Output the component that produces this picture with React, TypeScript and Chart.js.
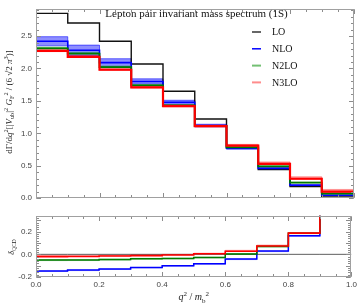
import React, { useEffect, useRef } from 'react';
import { Chart, registerables } from 'chart.js';
Chart.register(...registerables);

// ---------- data ----------
const binEdges = [0, 0.1, 0.2, 0.3, 0.4, 0.5, 0.6, 0.7, 0.8, 0.9, 1.0];

const LO = [2.85, 2.70, 2.42, 2.07, 1.65, 1.22, 0.78, 0.44, 0.18, 0.02];
const NLO = [2.42, 2.28, 2.09, 1.80, 1.48, 1.12, 0.77, 0.46, 0.20, 0.045];
const NLO_hi = [2.49, 2.36, 2.15, 1.84, 1.51, 1.14, 0.785, 0.47, 0.21, 0.05];
const NLO_lo = [2.35, 2.20, 2.03, 1.76, 1.45, 1.10, 0.755, 0.45, 0.19, 0.04];
const N2LO = [2.31, 2.23, 2.02, 1.74, 1.43, 1.11, 0.785, 0.49, 0.24, 0.07];
const N2LO_hi = [2.33, 2.25, 2.04, 1.755, 1.44, 1.12, 0.795, 0.50, 0.25, 0.08];
const N2LO_lo = [2.305, 2.225, 2.015, 1.735, 1.425, 1.105, 0.78, 0.485, 0.235, 0.065];
const N3LO = [2.27, 2.18, 1.98, 1.71, 1.42, 1.11, 0.81, 0.53, 0.30, 0.10];
const N3LO_hi = [2.29, 2.20, 2.00, 1.73, 1.44, 1.13, 0.83, 0.56, 0.33, 0.135];
const N3LO_lo = [2.26, 2.17, 1.97, 1.70, 1.41, 1.10, 0.80, 0.52, 0.29, 0.09];

const dLO = [0, 0, 0, 0, 0, 0, 0, 0, 0, 0];
const dNLO = [-0.146, -0.139, -0.129, -0.116, -0.100, -0.083, -0.041, 0.030, 0.165, 1.5];
const dNLO_lo = [-0.151, -0.144, -0.134, -0.121, -0.105, -0.088, -0.047, 0.023, 0.158, 1.4];
const dN2LO = [-0.050, -0.049, -0.046, -0.038, -0.036, -0.028, 0.004, 0.069, 0.185, 2.2];
const dN2LO_hi = [-0.046, -0.045, -0.042, -0.034, -0.032, -0.024, 0.008, 0.073, 0.188, 2.3];
const dN2LO_lo = [-0.056, -0.055, -0.052, -0.044, -0.041, -0.033, 0.000, 0.064, 0.181, 2.1];
const dN3LO = [-0.020, -0.019, -0.015, -0.011, -0.006, 0.005, 0.027, 0.074, 0.187, 3.0];
const dN3LO_hi = [-0.008, -0.008, -0.006, -0.003, 0.000, 0.011, 0.036, 0.083, 0.191, 3.1];

const seriesNames = ['LO', 'NLO', 'N2LO', 'N3LO'];
const titleText = 'Lepton pair invariant mass spectrum (1S)';
const xTicksMajor = [0, 0.2, 0.4, 0.6, 0.8, 1.0];
const yTicksTop = [0, 0.5, 1.0, 1.5, 2.0, 2.5];
const yTicksBottom = [-0.2, -0.1, 0.0, 0.1, 0.2, 0.3];

// ---------- helpers ----------
const steps = (vals: number[]) => {
  const pts = vals.map((v, i) => ({ x: binEdges[i], y: v }));
  pts.push({ x: binEdges[binEdges.length - 1], y: vals[vals.length - 1] });
  return pts;
};

const lineDs = (vals: number[], color: string, width: number, order: number) => ({
  type: 'line' as const,
  data: steps(vals),
  borderColor: color,
  borderWidth: width,
  stepped: 'before' as const,
  pointRadius: 0,
  fill: false,
  order,
  clip: 0,
});

const bandDs = (hi: number[], lo: number[], fillColor: string, edge: string, order: number) => [
  {
    type: 'line' as const,
    data: steps(hi),
    borderColor: edge,
    borderWidth: 0.8,
    backgroundColor: fillColor,
    stepped: 'before' as const,
    pointRadius: 0,
    fill: '+1',
    order,
    clip: 0,
  },
  {
    type: 'line' as const,
    data: steps(lo),
    borderColor: edge,
    borderWidth: 0.8,
    stepped: 'before' as const,
    pointRadius: 0,
    fill: false,
    order,
    clip: 0,
  },
];

type Seg = { t: string; it?: boolean; sup?: boolean; sub?: boolean };
const SERIF = '"Liberation Serif", "DejaVu Serif", serif';
const SANS = '"Liberation Sans", Arial, sans-serif';

function drawRich(ctx: CanvasRenderingContext2D, segs: Seg[], x: number, y: number, size: number, align: 'center' | 'left', color: string) {
  const fontFor = (s: Seg) => `${s.it ? 'italic ' : ''}${s.sup || s.sub ? size * 0.7 : size}px ${SERIF}`;
  let w = 0;
  segs.forEach((s) => {
    ctx.font = fontFor(s);
    w += ctx.measureText(s.t).width;
  });
  let cx = align === 'center' ? x - w / 2 : x;
  ctx.fillStyle = color;
  ctx.textBaseline = 'alphabetic';
  ctx.textAlign = 'left';
  segs.forEach((s) => {
    ctx.font = fontFor(s);
    const dy = s.sup ? -size * 0.4 : s.sub ? size * 0.25 : 0;
    ctx.fillText(s.t, cx, y + dy);
    cx += ctx.measureText(s.t).width;
  });
}

function range(min: number, max: number, step: number) {
  const n = Math.round((max - min) / step);
  const out: number[] = [];
  for (let k = 0; k <= n; k++) out.push(+(min + k * step).toFixed(6));
  return out;
}

const framePlugin = (yMinor: number[], yMajor: number[]) => ({
  id: 'frameTicks',
  afterDatasetsDraw(chart: any) {
    const { ctx, chartArea: a, scales } = chart;
    const xs = scales.x;
    const ys = scales.y;
    const L = Math.round(a.left) + 0.5;
    const R = Math.round(a.right) - 0.5;
    const T = Math.round(a.top) + 0.5;
    const B = Math.round(a.bottom) - 0.5;
    ctx.save();
    ctx.lineWidth = 1;
    ctx.strokeStyle = '#8c8c8c';
    const xMinor = range(0, 1, 0.05);
    const tickX = (v: number, len: number) => {
      const p = Math.round(xs.getPixelForValue(v)) + 0.5;
      ctx.beginPath();
      ctx.moveTo(p, B);
      ctx.lineTo(p, B - len);
      ctx.moveTo(p, T);
      ctx.lineTo(p, T + len);
      ctx.stroke();
    };
    const tickY = (v: number, len: number) => {
      const p = Math.round(ys.getPixelForValue(v)) + 0.5;
      ctx.beginPath();
      ctx.moveTo(L, p);
      ctx.lineTo(L + len, p);
      ctx.moveTo(R, p);
      ctx.lineTo(R - len, p);
      ctx.stroke();
    };
    xMinor.forEach((v) => tickX(v, 2.5));
    xTicksMajor.forEach((v) => tickX(v, 4.5));
    yMinor.forEach((v) => tickY(v, 2.5));
    yMajor.forEach((v) => tickY(v, 4.5));
    ctx.strokeStyle = '#a0a0a0';
    ctx.strokeRect(L, T, R - L, B - T);
    ctx.restore();
  },
});

const topTextPlugin = {
  id: 'topText',
  afterDraw(chart: any) {
    const { ctx } = chart;
    ctx.save();
    ctx.font = `11px ${SERIF}`;
    ctx.fillStyle = '#111';
    ctx.textAlign = 'center';
    ctx.textBaseline = 'middle';
    ctx.fillText(titleText, 196.5, 14);
    const colors = ['#000000', '#0000ff', 'rgba(0,140,0,0.55)', 'rgba(255,0,0,0.45)'];
    const widths = [1.2, 1.5, 2, 2];
    seriesNames.forEach((name, i) => {
      const y = 32 + i * 16.8;
      ctx.strokeStyle = colors[i];
      ctx.lineWidth = widths[i];
      ctx.beginPath();
      ctx.moveTo(252, y);
      ctx.lineTo(261, y);
      ctx.stroke();
      ctx.font = `10px ${SERIF}`;
      ctx.fillStyle = '#111';
      ctx.textAlign = 'left';
      ctx.textBaseline = 'middle';
      ctx.fillText(name, 272, y + 0.5);
    });
    // y axis title
    ctx.translate(11.5, 102);
    ctx.rotate(-Math.PI / 2);
    const segs: Seg[] = [
      { t: 'd' }, { t: 'Γ' }, { t: '/' }, { t: 'd' }, { t: 'q', it: true }, { t: '2', sup: true },
      { t: '[|' }, { t: 'V', it: true }, { t: 'ub', sub: true }, { t: '|' }, { t: '2', sup: true },
      { t: ' ' }, { t: 'G', it: true }, { t: 'F', sub: true }, { t: '2', sup: true },
      { t: ' / (6 √2 ' }, { t: 'π', it: true }, { t: '3', sup: true }, { t: ')]' },
    ];
    drawRich(ctx, segs, 0, 0, 9, 'center', '#222');
    ctx.restore();
  },
};

const bottomTextPlugin = {
  id: 'bottomText',
  afterDraw(chart: any) {
    const { ctx, chartArea: a } = chart;
    ctx.save();
    const cx = (a.left + a.right) / 2;
    drawRich(ctx, [
      { t: 'q', it: true }, { t: '2', sup: true }, { t: ' / ' }, { t: 'm', it: true }, { t: 'b', sub: true }, { t: '2', sup: true },
    ], cx, 93, 10, 'center', '#222');
    ctx.translate(14, 40);
    ctx.rotate(-Math.PI / 2);
    drawRich(ctx, [{ t: 'δ', it: true }, { t: 'QCD', sub: true }], 0, 0, 8, 'center', '#222');
    ctx.restore();
  },
};

const tickFont = { family: SANS, size: 8 };

export default function App() {
  const topRef = useRef<HTMLCanvasElement>(null);
  const botRef = useRef<HTMLCanvasElement>(null);

  useEffect(() => {
    const top = new Chart(topRef.current as HTMLCanvasElement, {
      type: 'line',
      data: {
        datasets: [
          lineDs(LO, '#111111', 1.4, 3),
          lineDs(NLO, '#0000ff', 1.6, 2),
          lineDs(N2LO, '#007a00', 1.8, 1),
          lineDs(N3LO, '#ff0000', 2.2, 0),
          ...bandDs(NLO_hi, NLO_lo, 'rgba(50,50,255,0.55)', 'rgba(0,0,255,0.7)', 6),
          ...bandDs(N2LO_hi, N2LO_lo, 'rgba(0,150,0,0.4)', 'rgba(0,150,0,0.35)', 5),
          ...bandDs(N3LO_hi, N3LO_lo, 'rgba(255,60,60,0.45)', 'rgba(255,0,0,0.4)', 4),
        ] as any,
      },
      options: {
        animation: false,
        responsive: false,
        devicePixelRatio: 1,
        layout: { padding: { top: 5, right: 6.5, bottom: 5, left: 0 } },
        plugins: { legend: { display: false }, tooltip: { enabled: false }, title: { display: false } },
        scales: {
          x: { type: 'linear', min: 0, max: 1, display: false },
          y: {
            type: 'linear',
            min: 0,
            max: 2.92,
            grid: { display: false, drawTicks: false },
            border: { display: false },
            afterBuildTicks: (s: any) => {
              s.ticks = yTicksTop.map((v) => ({ value: v }));
            },
            afterFit: (s: any) => {
              s.width = 36;
            },
            ticks: {
              font: tickFont,
              color: '#444',
              padding: 4,
              callback: (v: any) => Number(v).toFixed(1),
            },
          },
        },
      } as any,
      plugins: [framePlugin(range(0, 2.9, 0.1), yTicksTop), topTextPlugin],
    });

    const bot = new Chart(botRef.current as HTMLCanvasElement, {
      type: 'line',
      data: {
        datasets: [
          lineDs(dLO, 'rgba(40,40,40,0.75)', 1, 4),
          lineDs(dNLO, '#0000ff', 1.5, 2),
          lineDs(dN2LO, '#007a00', 1.5, 1),
          lineDs(dN3LO, '#ff0000', 1.6, 0),
          ...bandDs(dNLO, dNLO_lo, 'rgba(90,90,255,0.35)', 'rgba(0,0,255,0.25)', 7),
          ...bandDs(dN2LO_hi, dN2LO_lo, 'rgba(0,150,0,0.3)', 'rgba(0,150,0,0.25)', 6),
          ...bandDs(dN3LO_hi, dN3LO, 'rgba(255,60,60,0.35)', 'rgba(255,0,0,0.3)', 5),
        ] as any,
      },
      options: {
        animation: false,
        responsive: false,
        devicePixelRatio: 1,
        layout: { padding: { top: 5, right: 6.5, bottom: 0, left: 0 } },
        plugins: { legend: { display: false }, tooltip: { enabled: false }, title: { display: false } },
        scales: {
          x: {
            type: 'linear',
            min: 0,
            max: 1,
            grid: { display: false, drawTicks: false },
            border: { display: false },
            afterBuildTicks: (s: any) => {
              s.ticks = xTicksMajor.map((v) => ({ value: v }));
            },
            afterFit: (s: any) => {
              s.height = 30;
            },
            ticks: {
              font: tickFont,
              color: '#444',
              padding: 3,
              maxRotation: 0,
              callback: (v: any) => Number(v).toFixed(1),
            },
          },
          y: {
            type: 'linear',
            min: -0.2,
            max: 0.34,
            grid: { display: false, drawTicks: false },
            border: { display: false },
            afterBuildTicks: (s: any) => {
              s.ticks = yTicksBottom.map((v) => ({ value: v }));
            },
            afterFit: (s: any) => {
              s.width = 36;
            },
            ticks: {
              font: tickFont,
              color: '#444',
              padding: 4,
              callback: (v: any) => Number(v).toFixed(1),
            },
          },
        },
      } as any,
      plugins: [framePlugin(range(-0.2, 0.34, 0.02), yTicksBottom), bottomTextPlugin],
    });

    return () => {
      top.destroy();
      bot.destroy();
    };
  }, []);

  return (
    <div style={{ position: 'absolute', left: 0, top: 0, width: 360, height: 307, background: '#fff' }}>
      <canvas ref={topRef} width={360} height={207} style={{ position: 'absolute', left: 0, top: 0, width: 360, height: 207 }} />
      <canvas ref={botRef} width={360} height={100} style={{ position: 'absolute', left: 0, top: 207, width: 360, height: 100 }} />
    </div>
  );
}
